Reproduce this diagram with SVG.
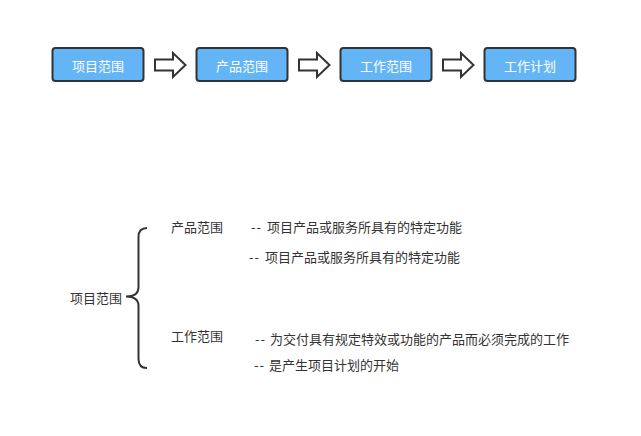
<svg xmlns="http://www.w3.org/2000/svg" width="641" height="436" viewBox="0 0 641 436">
<style>
.box{fill:#64B5F6;stroke:#333;stroke-width:2}
.bl{fill:#fff;font-family:"Noto Sans CJK SC","Microsoft YaHei",sans-serif;font-size:13px;text-anchor:middle;dominant-baseline:central}
.arr{fill:#fff;stroke:#333;stroke-width:2;stroke-linejoin:miter}
.t{fill:#333;font-family:"Noto Sans CJK SC",sans-serif;font-size:13px;dominant-baseline:central}
.brace{fill:none;stroke:#333;stroke-width:2}
</style>
<rect width="641" height="436" fill="#fff"/>
<g id="n1"><rect class="box" x="52.5" y="48" width="91" height="33" rx="3"/><text class="bl" x="98" y="65">项目范围</text></g>
<g id="n2"><rect class="box" x="196.5" y="48" width="91" height="33" rx="3"/><text class="bl" x="242" y="65">产品范围</text></g>
<g id="n3"><rect class="box" x="340.5" y="48" width="91" height="33" rx="3"/><text class="bl" x="386" y="65">工作范围</text></g>
<g id="n4"><rect class="box" x="484.5" y="48" width="91" height="33" rx="3"/><text class="bl" x="530" y="65">工作计划</text></g>
<g id="connectors">
<polygon class="arr" points="155,59.5 173,59.5 173,53 185.5,65 173,77 173,70.5 155,70.5"/>
<polygon class="arr" points="299,59.5 317,59.5 317,53 329.5,65 317,77 317,70.5 299,70.5"/>
<polygon class="arr" points="443,59.5 461,59.5 461,53 473.5,65 461,77 461,70.5 443,70.5"/>
</g>
<g id="tree">
<path class="brace" d="M147,228 Q138.5,228 138.5,237 L138.5,287 Q138.5,296.5 126,296.5 Q138.5,296.5 138.5,306 L138.5,359 Q138.5,368 147,368"/>
<text class="t" x="70" y="297">项目范围</text>
<text class="t" x="171" y="226">产品范围</text>
<text class="t" x="251" y="226"><tspan letter-spacing="1">--</tspan> <tspan dx="2">项目产品或服务所具有的特定功能</tspan></text>
<text class="t" x="249" y="256"><tspan letter-spacing="1">--</tspan> <tspan dx="2">项目产品或服务所具有的特定功能</tspan></text>
<text class="t" x="171" y="335">工作范围</text>
<text class="t" x="255" y="338"><tspan letter-spacing="1">--</tspan> <tspan dx="1">为交付具有规定特效或功能的产品而必须完成的工作</tspan></text>
<text class="t" x="254" y="364"><tspan letter-spacing="1">--</tspan> <tspan dx="1">是产生项目计划的开始</tspan></text>
</g>
</svg>
